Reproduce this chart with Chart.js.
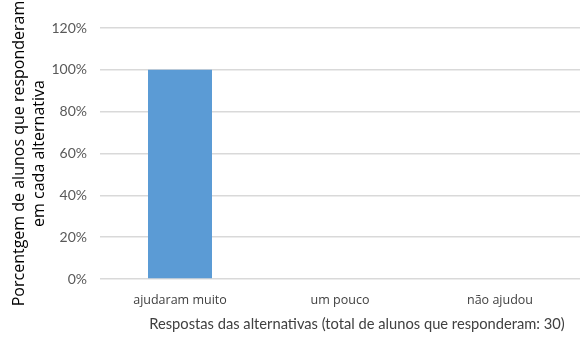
<!DOCTYPE html>
<html>
<head>
<meta charset="utf-8">
<script src="https://cdn.jsdelivr.net/npm/chart.js@4/dist/chart.umd.min.js"></script>
<style>
  html, body { margin: 0; padding: 0; background: #fff; }
  #wrap { width: 582px; height: 340px; }
</style>
</head>
<body>
<div id="wrap"><canvas id="chart" width="582" height="340"></canvas></div>
<script>
const categories = ['ajudaram muito', 'um pouco', 'não ajudou'];
const percentages = [100, 0, 0];
const yTicks = [0, 20, 40, 60, 80, 100, 120];

const yTitle = ['Porcentgem de alunos que responderam', 'em cada alternativa'];
const xTitle = 'Respostas das alternativas (total de alunos que responderam: 30)';

const FONT = 'Lato, "Open Sans", sans-serif';
const WIDE = '"Open Sans", sans-serif';

// x-axis caption sits a little right of the plot centre, so draw it by hand
const xCaption = {
  id: 'xCaption',
  afterDraw(chart) {
    const { ctx, chartArea } = chart;
    ctx.save();
    ctx.font = '14.7px ' + FONT;
    ctx.fillStyle = '#404040';
    ctx.textAlign = 'center';
    ctx.textBaseline = 'middle';
    ctx.fillText(xTitle, (chartArea.left + chartArea.right) / 2 + 17, 324);
    ctx.restore();
  },
};

const ctx = document.getElementById('chart').getContext('2d');
new Chart(ctx, {
  type: 'bar',
  data: {
    labels: categories,
    datasets: [{
      data: percentages,
      backgroundColor: '#5b9bd5',
      borderWidth: 0,
      categoryPercentage: 1,
      barPercentage: 0.4,
    }],
  },
  plugins: [xCaption],
  options: {
    responsive: false,
    animation: false,
    layout: { padding: { top: 28, right: 2, left: 0, bottom: 0 } },
    plugins: {
      legend: { display: false },
      tooltip: { enabled: false },
    },
    scales: {
      x: {
        grid: { display: false },
        border: { display: false },
        ticks: {
          color: '#404040',
          padding: 6,
          font: { family: WIDE, size: 12.5 },
        },
        afterFit: (scale) => { scale.height = 61; },
      },
      y: {
        min: 0,
        max: 120,
        afterBuildTicks: (scale) => { scale.ticks = yTicks.map(v => ({ value: v })); },
        grid: { color: '#d9d9d9', lineWidth: 1.5, drawTicks: false },
        border: { display: false },
        ticks: {
          color: '#595959',
          padding: 13,
          font: { family: FONT, size: 14 },
          callback: (v) => v + '%',
        },
        title: {
          display: true,
          text: yTitle,
          color: '#000',
          padding: { top: 9, bottom: 0 },
          font: { family: WIDE, size: 16, lineHeight: 1.25 },
        },
        afterFit: (scale) => { scale.width = 100; },
      },
    },
  },
});
</script>
</body>
</html>
